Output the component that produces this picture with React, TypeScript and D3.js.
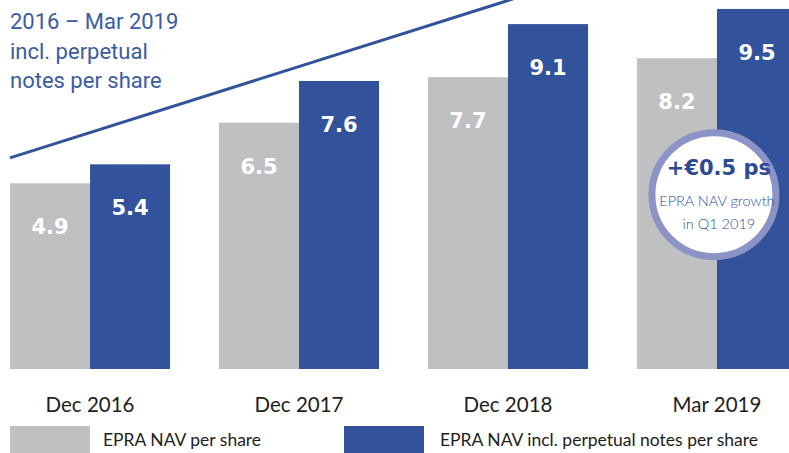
import React from 'react';
import * as d3 from 'd3';

const categories = ['Dec 2016', 'Dec 2017', 'Dec 2018', 'Mar 2019'];
const seriesNames = ['EPRA NAV per share', 'EPRA NAV incl. perpetual notes per share'];
const navPerShare = [4.9, 6.5, 7.7, 8.2];
const navInclNotes = [5.4, 7.6, 9.1, 9.5];
const seriesColors = ['#bfc0c2', '#32539b'];

// decorative growth arrow (value at start of first and last group)
const trendCats = ['Dec 2016', 'Mar 2019'];
const trendValues = [5.57, 10.8];

const titleLines = ['2016 \u2013 Mar 2019', 'incl. perpetual', 'notes per share'];
const calloutCat = 'Mar 2019';
const calloutValue = 4.6;
const calloutLines = ['+\u20ac0.5 ps', 'EPRA NAV growth', 'in Q1 2019'];

const width = 789;
const height = 453;

export default function App() {
  const baseline = 369;
  const pxPerUnit = 37.9;

  const x = d3.scaleBand<string>()
    .domain(categories)
    .range([10, 797])
    .paddingInner(0.234)
    .paddingOuter(0);

  const inner = d3.scaleBand<number>()
    .domain([0, 1])
    .range([0, x.bandwidth()])
    .padding(0);

  const y = d3.scaleLinear()
    .domain([0, 10])
    .range([baseline, baseline - pxPerUnit * 10]);

  const series = [navPerShare, navInclNotes];

  const line = d3.line<number>()
    .x((_, i) => x(trendCats[i]) as number)
    .y((v) => y(v));

  const cx = (x(calloutCat) as number) + 77;
  const cy = y(calloutValue);

  return (
    <svg width={width} height={height} style={{ position: 'absolute', left: 0, top: 0 }}>
      <rect width={width} height={height} fill="#ffffff" />

      {titleLines.map((t, i) => (
        <text key={t} x={10} y={29 + i * 29.5} fontFamily="Roboto" fontSize={22} fill="#3b5ba5">{t}</text>
      ))}

      <path d={line(trendValues) || ''} fill="none" stroke="#32539b" strokeWidth={3} />

      {categories.map((c, ci) => (
        <g key={c} transform={`translate(${x(c)},0)`}>
          {series.map((s, si) => (
            <g key={si}>
              <rect
                x={inner(si)}
                y={y(s[ci])}
                width={inner.bandwidth()}
                height={baseline - y(s[ci])}
                fill={seriesColors[si]}
              />
              <text
                x={(inner(si) as number) + inner.bandwidth() / 2}
                y={y(s[ci]) + 51}
                textAnchor="middle"
                fontFamily="DejaVu Sans"
                fontWeight="bold"
                fontSize={21}
                fill="#ffffff"
              >{s[ci].toFixed(1)}</text>
            </g>
          ))}
          <text
            x={inner(1)}
            y={412}
            textAnchor="middle"
            fontFamily="Lato"
            fontSize={20.5}
            fill="#1e1e1e"
          >{c}</text>
        </g>
      ))}

      <circle cx={cx} cy={cy} r={62} fill="#ffffff" stroke="#8c93c6" strokeWidth={7} />
      <text x={cx + 5} y={cy - 20} textAnchor="middle" fontFamily="DejaVu Sans" fontWeight="bold" fontSize={21} fill="#2d4a94">{calloutLines[0]}</text>
      <text x={cx + 3} y={cy + 11} textAnchor="middle" fontFamily="Lato" fontWeight={300} fontSize={14.5} fill="#2f4f9c">{calloutLines[1]}</text>
      <text x={cx + 5} y={cy + 34} textAnchor="middle" fontFamily="Lato" fontWeight={300} fontSize={14.5} fill="#2f4f9c">{calloutLines[2]}</text>

      {seriesNames.map((n, i) => {
        const lx = i === 0 ? 10 : 344;
        return (
          <g key={n} transform={`translate(${lx},426)`}>
            <rect width={80} height={28} fill={seriesColors[i]} />
            <text x={i === 0 ? 93 : 96} y={20} fontFamily="Lato" fontSize={17.5} fill="#1e1e1e">{n}</text>
          </g>
        );
      })}
    </svg>
  );
}
